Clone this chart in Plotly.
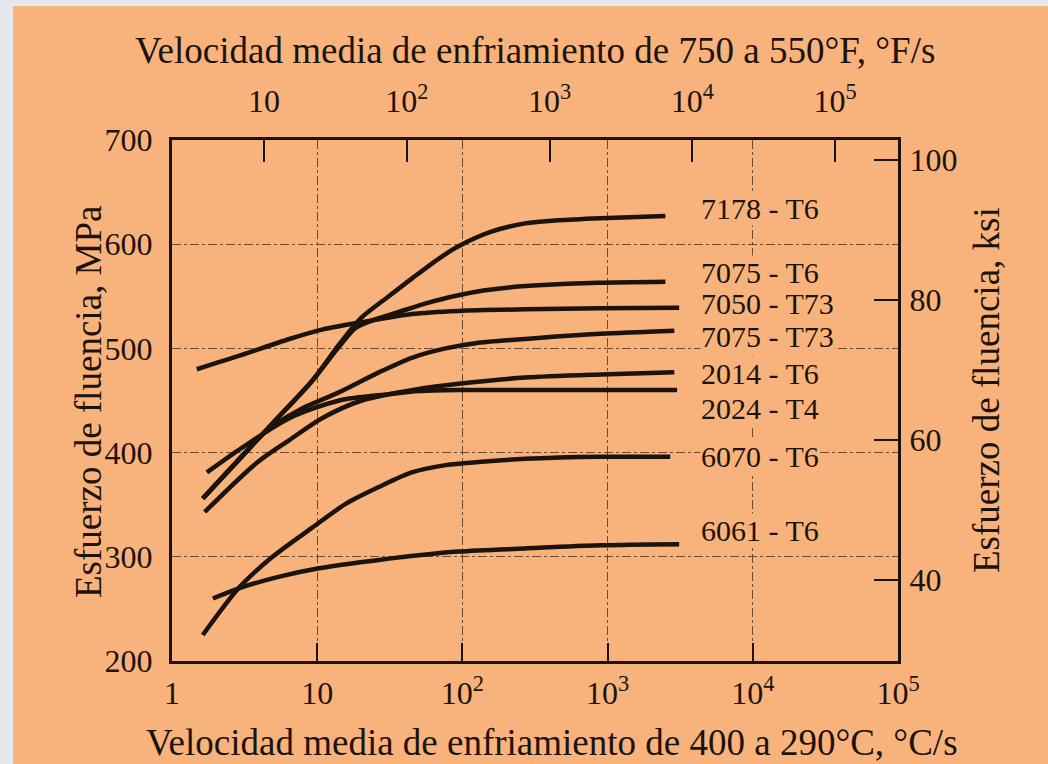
import math
import plotly.graph_objects as go

# Yield strength (MPa) versus average quench rate (°C/s) for several aluminium alloys
alloys = ["7178 - T6", "7075 - T6", "7050 - T73", "7075 - T73",
          "2014 - T6", "2024 - T4", "6070 - T6", "6061 - T6"]

rate_7178_t6 = [1.63, 2.92, 4.92, 9.25, 14.2, 20.0, 31.1, 44.8, 68.5, 94.0, 158, 270, 455, 895, 2500]
mpa_7178_t6 = [356, 394, 428, 469, 504, 529, 550, 567, 586, 598, 612, 620, 623, 625, 627]

rate_7075_t6 = [1.63, 2.92, 4.92, 9.25, 14.2, 18.5, 26.6, 34.8, 58.5, 94.0, 140, 210, 332, 855, 2500]
mpa_7075_t6 = [356, 394, 428, 469, 502, 520, 529, 534, 544, 551, 555.5, 558.5, 560.5, 563, 564]

rate_7050_t73 = [1.48, 2.92, 6.43, 10.8, 20.0, 44.8, 94.0, 270, 895, 3110]
mpa_7050_t73 = [480, 493, 509, 518, 525, 533, 536, 537.5, 538.5, 539]

rate_7075_t73 = [1.63, 2.92, 4.48, 7.53, 14.2, 26.6, 44.8, 76.6, 123, 332, 895, 2880]
mpa_7075_t73 = [356, 394, 421, 441, 458, 477, 491, 500, 505, 510, 514, 517]

rate_2014_t6 = [1.68, 3.82, 6.43, 10.8, 20.3, 50.0, 94.0, 270, 895, 2880]
mpa_2014_t6 = [343, 390, 412, 433, 450, 461, 466, 472, 475, 477]

rate_2024_t4 = [1.74, 3.06, 6.43, 14.2, 31.1, 50.0, 94.0, 332, 3010]
mpa_2024_t4 = [381, 405, 433, 450, 456, 459, 460, 460, 460]

rate_6070_t6 = [1.63, 2.92, 4.92, 9.25, 15.8, 26.6, 44.8, 76.6, 129, 270, 895, 2700]
mpa_6070_t6 = [225, 271, 300, 328, 351, 367, 381, 388, 391, 394, 396, 396]

rate_6061_t6 = [1.91, 2.92, 5.50, 10.3, 26.6, 94.0, 270, 895, 3110]
mpa_6061_t6 = [260, 270, 281, 289, 297, 305, 308, 311, 312]

# curve labels: rate of the label's left edge and MPa of its centre
label_rate = 4300
label_mpa = [634.7, 573.3, 543.5, 511.0, 475.5, 442.8, 395.8, 325.7]

# axis ticks
c_tickvals = [1, 10, 100, 1000, 10000, 100000]
c_ticktext = ["1", "10", "10<sup>2</sup>", "10<sup>3</sup>", "10<sup>4</sup>", "10<sup>5</sup>"]
f_tickvals = [10, 100, 1000, 10000, 100000]
f_ticktext = ["10", "10<sup>2</sup>", "10<sup>3</sup>", "10<sup>4</sup>", "10<sup>5</sup>"]
mpa_tickvals = [200, 300, 400, 500, 600, 700]
ksi_tickvals = [40, 60, 80, 100]

series = [
    (rate_7178_t6, mpa_7178_t6), (rate_7075_t6, mpa_7075_t6),
    (rate_7050_t73, mpa_7050_t73), (rate_7075_t73, mpa_7075_t73),
    (rate_2014_t6, mpa_2014_t6), (rate_2024_t4, mpa_2024_t4),
    (rate_6070_t6, mpa_6070_t6), (rate_6061_t6, mpa_6061_t6),
]

W, H = 1048, 764
L, R, T, B = 172, 150, 140, 103
PW, PH = W - L - R, H - T - B


def px(x):
    return (x - L) / PW


def py(y):
    return (H - B - y) / PH


INK = "#1c130c"
PEACH = "#f8b27b"
FONT = "Liberation Serif"
GRID = "rgba(70,40,20,0.75)"

fig = go.Figure()

for name, (r, m) in zip(alloys, series):
    fig.add_trace(go.Scatter(
        x=r, y=m, mode="lines", name=name,
        line=dict(color=INK, width=4.5, shape="spline", smoothing=0.8),
        showlegend=False, hoverinfo="skip",
    ))

# secondary scales (°F/s on top, ksi on the right) carried by a hidden copy of one curve
fig.add_trace(go.Scatter(
    x=[v * 1.8 for v in rate_7178_t6], y=[v / 6.895 for v in mpa_7178_t6],
    xaxis="x2", yaxis="y2", mode="lines", line=dict(width=0, color="rgba(0,0,0,0)"),
    showlegend=False, hoverinfo="skip",
))

# alloy labels at the right end of the curves (log axis: x given in log10 units)
for name, m in zip(alloys, label_mpa):
    fig.add_annotation(
        x=math.log10(label_rate), y=m, text=name, showarrow=False, xref="x", yref="y",
        xanchor="left", yanchor="middle", bgcolor=PEACH, borderpad=0,
        font=dict(family=FONT, size=30, color=INK),
    )

tick_font = dict(family=FONT, size=32, color=INK)
title_font = dict(family=FONT, size=37, color=INK)

fig.update_layout(
    width=W, height=H,
    margin=dict(l=L, r=R, t=T, b=B, pad=0),
    paper_bgcolor="#e4e7eb",
    plot_bgcolor="rgba(0,0,0,0)",
    xaxis=dict(
        type="log", range=[0, 5], tickvals=c_tickvals, ticktext=c_ticktext,
        ticks="inside", ticklen=18, tickwidth=2, tickcolor=INK,
        showline=True, linewidth=3, linecolor=INK,
        showgrid=True, gridcolor=GRID, gridwidth=1, griddash="dashdot",
        tickfont=tick_font, ticklabelstandoff=2, zeroline=False,
    ),
    yaxis=dict(
        range=[200, 700], tickvals=mpa_tickvals,
        ticks="", showline=True, linewidth=3, linecolor=INK,
        showgrid=True, gridcolor=GRID, gridwidth=1, griddash="dashdot",
        tickfont=tick_font, ticklabelstandoff=10, zeroline=False,
    ),
    xaxis2=dict(
        type="log", overlaying="x", side="top", range=[0.3555, 5.441],
        tickvals=f_tickvals, ticktext=f_ticktext,
        ticks="inside", ticklen=22, tickwidth=2, tickcolor=INK,
        showline=True, linewidth=3, linecolor=INK, showgrid=False,
        tickfont=tick_font, ticklabelstandoff=12, zeroline=False,
    ),
    yaxis2=dict(
        overlaying="y", side="right", range=[28.43, 102.857],
        tickvals=ksi_tickvals, ticks="inside", ticklen=24, tickwidth=2, tickcolor=INK,
        showline=True, linewidth=3, linecolor=INK, showgrid=False,
        tickfont=tick_font, ticklabelstandoff=2, zeroline=False,
    ),
    shapes=[dict(
        type="rect", xref="paper", yref="paper",
        x0=px(13), x1=px(W + 5), y0=py(H + 5), y1=py(6),
        fillcolor=PEACH, line=dict(width=0), layer="below",
    )],
)

titles = [
    ("Velocidad media de enfriamiento de 750 a 550°F, °F/s", 535, 50, 0),
    ("Velocidad media de enfriamiento de 400 a 290°C, °C/s", 552, 742, 0),
    ("Esfuerzo de fluencia, MPa", 88, 402, -90),
    ("Esfuerzo de fluencia, ksi", 986, 390, -90),
]
for text, tx, ty, ang in titles:
    fig.add_annotation(
        x=px(tx), y=py(ty), xref="paper", yref="paper", showarrow=False,
        xanchor="center", yanchor="middle", textangle=ang,
        text=text, font=title_font,
    )

fig.write_html("out.html")
